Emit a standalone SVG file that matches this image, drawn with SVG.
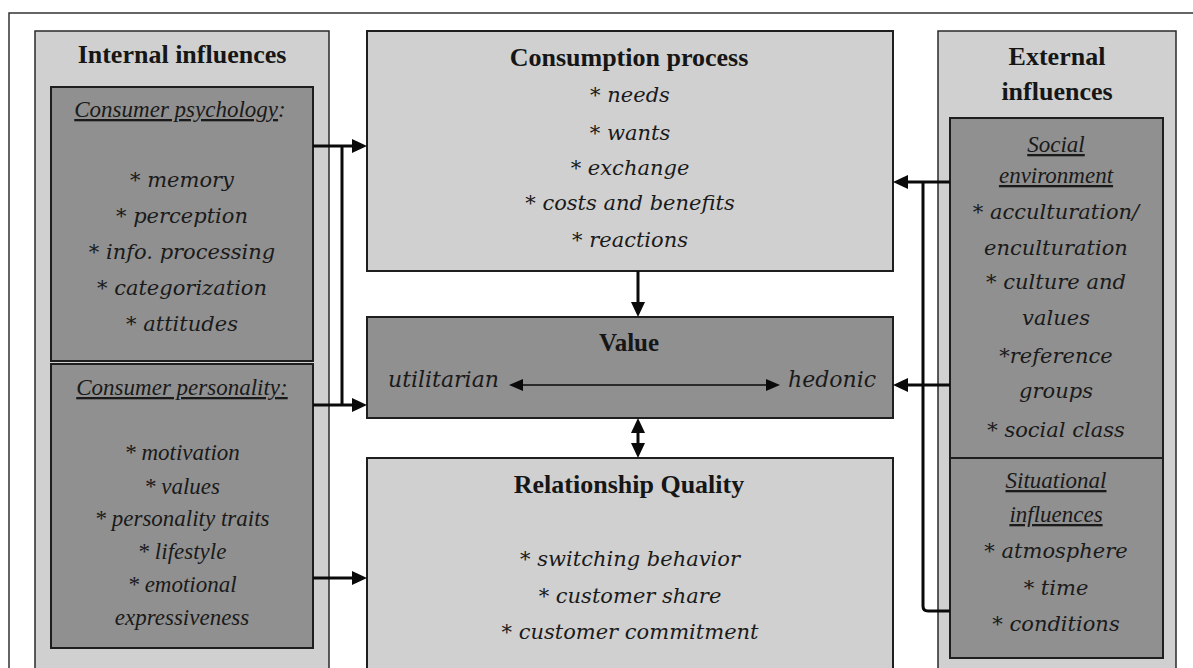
<svg xmlns="http://www.w3.org/2000/svg" width="1193" height="668" viewBox="0 0 1193 668">
<style>
.panel{fill:#d0d0d0;stroke:#2a2a2a;stroke-width:1.5}
.dark{fill:#909090;stroke:#1e1e1e;stroke-width:2}
.light{fill:#d0d0d0;stroke:#1e1e1e;stroke-width:2}
.h{font-family:"Liberation Serif","Times New Roman",serif;font-weight:bold;font-size:26px;fill:#161616;text-anchor:middle}
.w{font-family:"DejaVu Serif",serif;font-style:italic;font-size:21px;fill:#1a1a1a;text-anchor:middle}
.n{font-family:"Liberation Serif","Times New Roman",serif;font-style:italic;font-size:23px;fill:#1a1a1a;text-anchor:middle}
.u{text-decoration:underline}
.c{fill:none;stroke:#0a0a0a;stroke-width:3}
.ci{fill:none;stroke:#0a0a0a;stroke-width:1.6}
</style>
<defs>
<marker id="ah" markerUnits="userSpaceOnUse" markerWidth="16" markerHeight="14" refX="7" refY="7" orient="auto-start-reverse"><path d="M0,0 L15,7 L0,14 z" fill="#0a0a0a"/></marker>
<marker id="as" markerUnits="userSpaceOnUse" markerWidth="15" markerHeight="12" refX="6" refY="6" orient="auto-start-reverse"><path d="M0,0 L14,6 L0,12 z" fill="#0a0a0a"/></marker>
</defs>
<rect x="0" y="0" width="1193" height="668" fill="#ffffff"/>
<rect x="9" y="13" width="1200" height="700" fill="none" stroke="#333" stroke-width="1.5"/>

<g id="internal-influences">
<rect class="panel" x="35" y="31" width="294" height="700"/>
<text class="h" x="182" y="63">Internal influences</text>
</g>
<g id="consumer-psychology">
<rect class="dark" x="51" y="87" width="262" height="274"/>
<text class="n" x="180" y="117"><tspan class="u">Consumer psychology</tspan>:</text>
<text class="w" x="182" y="187">* memory</text>
<text class="w" x="182" y="223">* perception</text>
<text class="w" x="182" y="259">* info. processing</text>
<text class="w" x="182" y="295">* categorization</text>
<text class="w" x="182" y="331">* attitudes</text>
</g>
<g id="consumer-personality">
<rect class="dark" x="51" y="364" width="262" height="284"/>
<text class="n" x="182" y="395"><tspan class="u">Consumer personality:</tspan></text>
<text class="n" x="182" y="460">* motivation</text>
<text class="n" x="182" y="494">* values</text>
<text class="n" x="182" y="526">* personality traits</text>
<text class="n" x="182" y="559">* lifestyle</text>
<text class="n" x="182" y="592">* emotional</text>
<text class="n" x="182" y="625">expressiveness</text>
</g>

<g id="consumption-process">
<rect class="light" x="367" y="31" width="526" height="240"/>
<text class="h" x="629" y="66">Consumption process</text>
<text class="w" x="630" y="102">* needs</text>
<text class="w" x="630" y="140">* wants</text>
<text class="w" x="630" y="175">* exchange</text>
<text class="w" x="630" y="210">* costs and benefits</text>
<text class="w" x="630" y="247">* reactions</text>
</g>
<g id="value">
<rect class="dark" x="367" y="317" width="526" height="101"/>
<text class="h" x="629" y="351" style="font-size:25px">Value</text>
<text class="w" x="388" y="387" style="text-anchor:start;font-size:22px">utilitarian</text>
<text class="w" x="788" y="387" style="text-anchor:start;font-size:22px">hedonic</text>
</g>
<g id="relationship-quality">
<rect class="light" x="367" y="458" width="526" height="300"/>
<text class="h" x="629" y="493">Relationship Quality</text>
<text class="w" x="630" y="566">* switching behavior</text>
<text class="w" x="630" y="603">* customer share</text>
<text class="w" x="630" y="639">* customer commitment</text>
</g>

<g id="external-influences">
<rect class="panel" x="938" y="31" width="238" height="700"/>
<text class="h" x="1057" y="65">External</text>
<text class="h" x="1057" y="100">influences</text>
</g>
<g id="social-environment">
<rect class="dark" x="950" y="118" width="213" height="340"/>
<text class="n u" x="1056" y="152">Social</text>
<text class="n u" x="1056" y="183">environment</text>
<text class="w" x="1056" y="219">* acculturation/</text>
<text class="w" x="1056" y="255">enculturation</text>
<text class="w" x="1056" y="289">* culture and</text>
<text class="w" x="1056" y="325">values</text>
<text class="w" x="1056" y="363">*reference</text>
<text class="w" x="1056" y="398">groups</text>
<text class="w" x="1056" y="437">* social class</text>
</g>
<g id="situational-influences">
<rect class="dark" x="950" y="458" width="213" height="200"/>
<text class="n u" x="1056" y="488">Situational</text>
<text class="n u" x="1056" y="522">influences</text>
<text class="w" x="1056" y="558">* atmosphere</text>
<text class="w" x="1056" y="595">* time</text>
<text class="w" x="1056" y="631">* conditions</text>
</g>

<g id="connectors">
<path class="c" d="M313,146 H359" marker-end="url(#ah)"/>
<path class="c" d="M342,146 V405"/>
<path class="c" d="M313,405 H359" marker-end="url(#ah)"/>
<path class="c" d="M313,578 H359" marker-end="url(#ah)"/>
<path class="c" d="M950,182 H901" marker-end="url(#ah)"/>
<path class="c" d="M923,182 V606 Q923,611 928,611 H950"/>
<path class="c" d="M950,385 H901" marker-end="url(#ah)"/>
<path class="c" d="M638,271 V309" marker-end="url(#ah)"/>
<path class="c" d="M638,426 V450" marker-start="url(#ah)" marker-end="url(#ah)"/>
<path class="ci" d="M517,385 H772" marker-start="url(#as)" marker-end="url(#as)"/>
</g>
</svg>
